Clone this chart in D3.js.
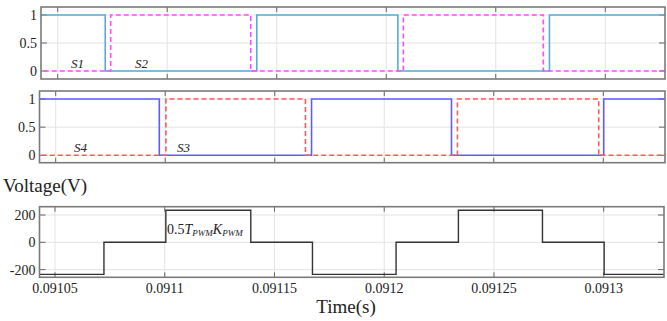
<!DOCTYPE html>
<html>
<head>
<meta charset="utf-8">
<script src="https://cdn.jsdelivr.net/npm/d3@7"></script>
<style>
  body { margin: 0; background: #fff; }
  svg { display: block; }
  text { font-family: "Liberation Serif", "Times New Roman", serif; fill: #222; }
</style>
</head>
<body>
<svg width="667" height="321"></svg>
<script>
// switching times (s), with the level that starts at each time
const timeTicks = [0.09105, 0.0911, 0.09115, 0.0912, 0.09125, 0.0913];
const timeTickLabels = ["0.09105", "0.0911", "0.09115", "0.0912", "0.09125", "0.0913"];

const s1Times = [0.09104, 0.0910717, 0.0911409, 0.0912053, 0.0912745];
const s1Levels = [1, 0, 1, 0, 1];
const s2Times = [0.09104, 0.0910742, 0.0911381, 0.0912078, 0.0912717];
const s2Levels = [0, 1, 0, 1, 0];

const s4Times = [0.09104, 0.0910973, 0.0911668, 0.0912307, 0.0913002];
const s4Levels = [1, 0, 1, 0, 1];
const s3Times = [0.09104, 0.0911003, 0.091164, 0.0912334, 0.0912979];
const s3Levels = [0, 1, 0, 1, 0];

const vTimes = [0.09104, 0.0910723, 0.0911005, 0.0911392, 0.0911673, 0.0912054, 0.0912338, 0.0912721, 0.0913002];
const vLevels = [-235, 0, 235, 0, -235, 0, 235, 0, -235];

const switchTicks = [0, 0.5, 1];
const voltTicks = [-200, 0, 200];

const svg = d3.select("svg");

// panel boxes: [left, right, top, bottom], tick pixel positions of first/last time tick
const panels = [
  {box: [41, 665, 7, 79], tx: [57.7, 605.3], y: d3.scaleLinear().domain([0, 1]).range([71, 15]), ticks: switchTicks, fmt: d => d},
  {box: [39.5, 665, 91, 162.7], tx: [55.7, 603.3], y: d3.scaleLinear().domain([0, 1]).range([155.3, 99]), ticks: switchTicks, fmt: d => d},
  {box: [39.5, 664, 206.7, 277.3], tx: [55, 603.7], y: d3.scaleLinear().domain([0, 200]).range([242.3, 215]), ticks: voltTicks, fmt: d => d}
];

function stepData(times, levels, tEnd) {
  return times.map((t, i) => ({t: t, v: levels[i]})).concat([{t: tEnd, v: levels[levels.length - 1]}]);
}

function drawPanel(p, idx, series) {
  const x = d3.scaleLinear().domain([timeTicks[0], timeTicks[5]]).range(p.tx);
  const [l, r, t, b] = p.box;
  const g = svg.append("g");

  g.append("clipPath").attr("id", "clip" + idx)
    .append("rect").attr("x", l).attr("y", t).attr("width", r - l).attr("height", b - t);

  g.append("rect").attr("x", l).attr("y", t).attr("width", r - l).attr("height", b - t)
    .attr("fill", "#fff");

  // grid
  g.selectAll(".gx").data(timeTicks).join("line")
    .attr("x1", d => x(d)).attr("x2", d => x(d)).attr("y1", t).attr("y2", b)
    .attr("stroke", "#e3e3e3").attr("stroke-width", 1);
  g.selectAll(".gy").data(p.ticks).join("line")
    .attr("x1", l).attr("x2", r).attr("y1", d => p.y(d)).attr("y2", d => p.y(d))
    .attr("stroke", "#e3e3e3").attr("stroke-width", 1);

  // tick marks on all sides
  g.selectAll(".tb").data(timeTicks).join("line")
    .attr("x1", d => x(d)).attr("x2", d => x(d)).attr("y1", b).attr("y2", b - 5)
    .attr("stroke", "#666");
  g.selectAll(".tt").data(timeTicks).join("line")
    .attr("x1", d => x(d)).attr("x2", d => x(d)).attr("y1", t).attr("y2", t + 5)
    .attr("stroke", "#666");
  g.selectAll(".tl").data(p.ticks).join("line")
    .attr("x1", l).attr("x2", l + 6).attr("y1", d => p.y(d)).attr("y2", d => p.y(d))
    .attr("stroke", "#666");
  g.selectAll(".tr").data(p.ticks).join("line")
    .attr("x1", r).attr("x2", r - 6).attr("y1", d => p.y(d)).attr("y2", d => p.y(d))
    .attr("stroke", "#666");

  const line = d3.line().curve(d3.curveStepAfter).x(d => x(d.t)).y(d => p.y(d.v));
  const tEnd = x.invert(r + 5);
  series.forEach(s => {
    g.append("path")
      .datum(stepData(s.times, s.levels, tEnd))
      .attr("clip-path", "url(#clip" + idx + ")")
      .attr("fill", "none")
      .attr("stroke", s.color)
      .attr("stroke-width", s.width || 1.6)
      .attr("stroke-dasharray", s.dash || null)
      .attr("d", line);
  });

  // box
  g.append("rect").attr("x", l).attr("y", t).attr("width", r - l).attr("height", b - t)
    .attr("fill", "none").attr("stroke", "#7a7a7a").attr("stroke-width", 1.6);

  // y tick labels
  g.selectAll(".yl").data(p.ticks).join("text")
    .attr("x", l - 4).attr("y", d => p.y(d) + 5)
    .attr("text-anchor", "end").attr("font-size", 14)
    .text(p.fmt);

  return x;
}

drawPanel(panels[0], 0, [
  {times: s1Times, levels: s1Levels, color: "#5aaad8"},
  {times: s2Times, levels: s2Levels, color: "#ff4cff", dash: "5,3"}
]);
drawPanel(panels[1], 1, [
  {times: s4Times, levels: s4Levels, color: "#5c5cff"},
  {times: s3Times, levels: s3Levels, color: "#ff5a5a", dash: "5,3"}
]);
const x3 = drawPanel(panels[2], 2, [
  {times: vTimes, levels: vLevels, color: "#333", width: 1.4}
]);

// x tick labels on the bottom panel
svg.selectAll(".xl").data(timeTicks).join("text")
  .attr("x", d => x3(d)).attr("y", 293)
  .attr("text-anchor", "middle").attr("font-size", 14)
  .text((d, i) => timeTickLabels[i]);

// signal names
const lbl = [["S1", 71, 68], ["S2", 135, 68], ["S4", 74, 152], ["S3", 177, 152]];
svg.selectAll(".sl").data(lbl).join("text")
  .attr("x", d => d[1]).attr("y", d => d[2])
  .attr("font-size", 13).attr("font-style", "italic")
  .text(d => d[0]);

svg.append("text").attr("x", 3).attr("y", 192).attr("font-size", 19).text("Voltage(V)");
svg.append("text").attr("x", 346).attr("y", 313).attr("text-anchor", "middle").attr("font-size", 19).text("Time(s)");

// annotation 0.5 T_PWM K_PWM
const ann = svg.append("text").attr("x", 167).attr("y", 234).attr("font-size", 14);
ann.append("tspan").text("0.5");
ann.append("tspan").attr("font-style", "italic").text("T");
ann.append("tspan").attr("font-style", "italic").attr("font-size", 9).attr("dy", 2).text("PWM");
ann.append("tspan").attr("font-style", "italic").attr("dy", -2).text("K");
ann.append("tspan").attr("font-style", "italic").attr("font-size", 9).attr("dy", 2).text("PWM");
</script>
</body>
</html>
